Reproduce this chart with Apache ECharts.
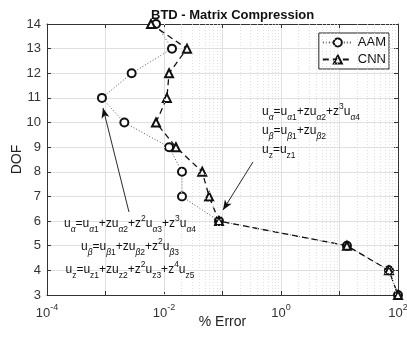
<!DOCTYPE html>
<html><head><meta charset="utf-8">
<script src="https://cdn.jsdelivr.net/npm/echarts@6/dist/echarts.min.js"></script>
<style>html,body{margin:0;padding:0;background:#fff}#c{width:407px;height:339px}</style>
</head><body><div id="c"></div>
<script>
const dof = [14,13,12,11,10,9,8,7,6,5,4,3];
const aamErr = [0.0073,0.0137,0.0028,0.00087,0.0021,0.0122,0.0203,0.0203,0.087,13.4,70,100];
const cnnErr = [0.006,0.0247,0.0122,0.0112,0.0073,0.016,0.045,0.059,0.087,13.4,70,100];
const minorX = [];
for (let e=-4;e<2;e++){ for (let m=2;m<=9;m++){ minorX.push(m*Math.pow(10,e)); } }
const arrowTR = [[0.332,8.40],[0.102,6.45]];
const arrowBL = [[0.00252,6.37],[0.000906,10.59]];

const FF = '"Liberation Sans", Arial, sans-serif';
const chart = echarts.init(document.getElementById('c'));
const rich = {
  b:{fontSize:12, fontFamily:FF, color:'#111', verticalAlign:'middle', lineHeight:20},
  s:{fontSize:8.5, fontFamily:FF, color:'#222', verticalAlign:'bottom', lineHeight:11},
  g:{fontSize:8.5, fontFamily:FF, color:'#666', fontStyle:'italic', verticalAlign:'bottom', lineHeight:11},
  p:{fontSize:8.5, fontFamily:FF, color:'#111', verticalAlign:'top', lineHeight:11}
};
function txt(str, x, y, align){
  return {type:'text', x:x, y:y, silent:true, z:100,
    style:{text:str, rich:rich, align:align, verticalAlign:'middle', fill:'#111', font:'12px '+FF}};
}
const gxy = xy => xy.map(p=>({coord:p}));
chart.setOption({
  animation:false,
  title:{text:'BTD - Matrix Compression', left:146, top:4,
    textStyle:{fontSize:13, fontWeight:'bold', fontFamily:FF, color:'#111'}},
  grid:{left:47, right:9, top:24, bottom:44, outerBoundsMode:'none', containLabel:false},
  legend:{data:['AAM','CNN'], orient:'vertical', right:18, top:33, itemWidth:30, itemHeight:10,
    itemGap:4, padding:[3,3,3,3], borderColor:'#222', borderWidth:1, backgroundColor:'#fff',
    textStyle:{fontSize:13, fontFamily:FF, color:'#111'}},
  xAxis:[{type:'log', logBase:10, min:1e-4, max:1e2, name:'% Error', nameLocation:'middle', nameGap:20, nameMoveOverlap:false,
    nameTextStyle:{fontSize:14, fontFamily:FF, color:'#222', verticalAlign:'top'},
    axisLine:{lineStyle:{color:'#333'}}, axisTick:{inside:true, length:4, lineStyle:{color:'#333'}},
    splitLine:{show:true, lineStyle:{color:'#e0e0e0'}},
    axisLabel:{color:'#333', margin:8, formatter:v=>{const e=Math.round(Math.log10(v)); return (e%2===0)?('{b|10}{p|'+e+'}'):'';},
      rich:{b:{fontSize:13,fontFamily:FF,color:'#333',verticalAlign:'middle',lineHeight:20},p:{fontSize:9,fontFamily:FF,color:'#333',verticalAlign:'top',lineHeight:11}}}},
   {type:'log', logBase:10, min:1e-4, max:1e2, position:'top', axisLine:{lineStyle:{color:'#333'}},
    axisTick:{inside:true, length:4, lineStyle:{color:'#333'}}, axisLabel:{show:false}, splitLine:{show:false}}],
  yAxis:[{type:'value', min:3, max:14, interval:1, name:'DOF', nameLocation:'middle', nameGap:23, nameMoveOverlap:false,
    nameTextStyle:{fontSize:14, fontFamily:FF, color:'#222'},
    axisLine:{show:true, lineStyle:{color:'#333'}}, axisTick:{show:true, inside:true, length:4, lineStyle:{color:'#333'}},
    splitLine:{show:true, lineStyle:{color:'#e0e0e0'}},
    axisLabel:{fontSize:13, fontFamily:FF, color:'#333', margin:6}},
   {type:'value', min:3, max:14, interval:1, position:'right', axisLine:{show:true, lineStyle:{color:'#333'}},
    axisTick:{show:true, inside:true, length:4, lineStyle:{color:'#333'}}, axisLabel:{show:false}, splitLine:{show:false}}],
  series:[
    {name:'grid', type:'line', data:[], silent:true,
      markLine:{silent:true, symbol:['none','none'], label:{show:false}, animation:false,
        lineStyle:{color:'#d8d8d8', type:[1,2], width:0.8},
        data:minorX.map(v=>({xAxis:v}))}},
    {name:'AAM', type:'line', data:aamErr.map((v,i)=>[v,dof[i]]), symbol:'emptyCircle', symbolSize:8,
      color:'#111', lineStyle:{color:'#555', width:1, type:[1,2]}, itemStyle:{color:'#111', borderWidth:1}, z:3},
    {name:'CNN', type:'line', data:cnnErr.map((v,i)=>[v,dof[i]]), symbol:'emptyTriangle', symbolSize:8,
      color:'#111', lineStyle:{color:'#111', width:1.3, type:[6,4]}, itemStyle:{color:'#111', borderWidth:1.2}, z:4},
    {name:'arrows', type:'line', data:[], silent:true,
      markLine:{silent:true, symbol:['none','arrow'], symbolSize:[6,10], label:{show:false}, animation:false,
        lineStyle:{color:'#111', type:'solid', width:0.9},
        data:[gxy(arrowTR), gxy(arrowBL)]}}
  ],
  graphic:[
    txt('{b|u}{g|α}{b|=u}{g|α}{s|1}{b|+zu}{g|α}{s|2}{b|+z}{p|3}{b|u}{g|α}{s|4}', 262, 112, 'left'),
    txt('{b|u}{g|β}{b|=u}{g|β}{s|1}{b|+zu}{g|β}{s|2}', 262, 131, 'left'),
    txt('{b|u}{s|z}{b|=u}{s|z1}', 262, 150, 'left'),
    txt('{b|u}{g|α}{b|=u}{g|α}{s|1}{b|+zu}{g|α}{s|2}{b|+z}{p|2}{b|u}{g|α}{s|3}{b|+z}{p|3}{b|u}{g|α}{s|4}', 130, 224, 'center'),
    txt('{b|u}{g|β}{b|=u}{g|β}{s|1}{b|+zu}{g|β}{s|2}{b|+z}{p|2}{b|u}{g|β}{s|3}', 130, 247, 'center'),
    txt('{b|u}{s|z}{b|=u}{s|z1}{b|+zu}{s|z2}{b|+z}{p|2}{b|u}{s|z3}{b|+z}{p|4}{b|u}{s|z5}', 130, 270, 'center')
  ]
});
</script></body></html>
